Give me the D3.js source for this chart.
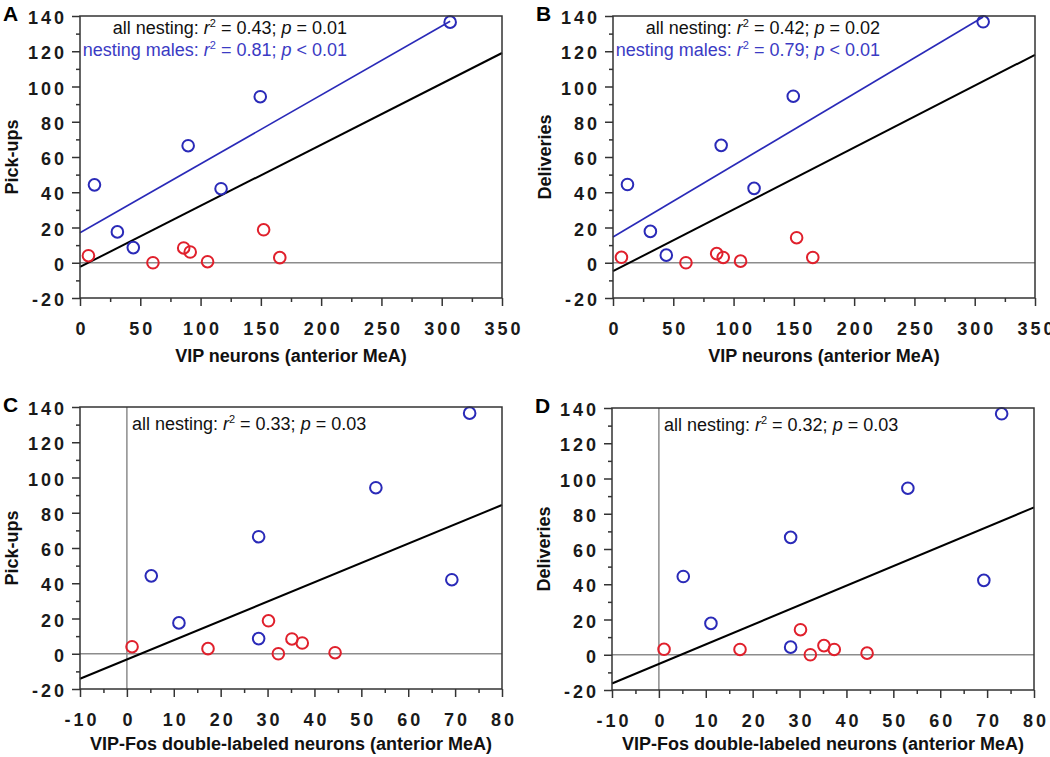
<!DOCTYPE html>
<html>
<head>
<meta charset="utf-8">
<script src="https://cdn.jsdelivr.net/npm/d3@7"></script>
<style>
  html, body { margin: 0; padding: 0; background: #fff; }
  svg { display: block; font-family: "Liberation Sans", Arial, Helvetica, sans-serif; }
</style>
</head>
<body>
<svg id="chart" width="1050" height="757"></svg>
<script>
// ---------------- data ----------------
const panelLetters = ["A", "B", "C", "D"];
const yTitles = ["Pick-ups", "Deliveries", "Pick-ups", "Deliveries"];
const xTitles = [
  "VIP neurons (anterior MeA)",
  "VIP neurons (anterior MeA)",
  "VIP-Fos double-labeled neurons (anterior MeA)",
  "VIP-Fos double-labeled neurons (anterior MeA)"
];
const yTicks = [-20, 0, 20, 40, 60, 80, 100, 120, 140];
const yMinorTicks = [-10, 10, 30, 50, 70, 90, 110, 130];
const xTicksVIP = [0, 50, 100, 150, 200, 250, 300, 350];
const xMinorVIP = [25, 75, 125, 175, 225, 275, 325];
const xTicksFos = [-10, 0, 10, 20, 30, 40, 50, 60, 70, 80];
const xMinorFos = [-5, 5, 15, 25, 35, 45, 55, 65, 75];

// nesting males (blue) and non-nesting (red) animals, same order in every array
const vipMales = [307, 149.5, 89.7, 12, 117, 31, 44.2];
const vipNonNesting = [7, 60.5, 86, 91.4, 105.8, 152.3, 165.7];
const fosMales = [73.1, 53.1, 28.1, 5.2, 69.3, 11.1, 28.1];
const fosNonNesting = [1.1, 32.3, 35.2, 37.4, 44.4, 30.2, 17.3];
const pickupsMales = [136.5, 94.2, 66.4, 44.2, 42, 17.5, 8.6];
const pickupsNonNesting = [4, 0, 8.4, 6.1, 0.6, 18.7, 2.9];
const deliveriesMales = [136.7, 94.5, 66.6, 44.4, 42.2, 17.8, 4.3];
const deliveriesNonNesting = [3.1, 0, 5.2, 3.0, 0.9, 14.2, 3.0];

// fitted regression lines: [[x0, y0], [x1, y1]] in data units
const fitAllA = [[0, -2.4], [350, 119]];
const fitMalesA = [[0, 17], [307, 137]];
const fitAllB = [[0, -4.8], [350, 118]];
const fitMalesB = [[0, 14.6], [307, 139.4]];
const fitAllC = [[-10, -14.2], [80, 84.4]];
const fitAllD = [[-10, -16.3], [80, 83.6]];

// statistics text: [label, r², p-comparison]
const statsA = [["all nesting", "0.43", "= 0.01"], ["nesting males", "0.81", "< 0.01"]];
const statsB = [["all nesting", "0.42", "= 0.02"], ["nesting males", "0.79", "< 0.01"]];
const statsC = [["all nesting", "0.33", "= 0.03"]];
const statsD = [["all nesting", "0.32", "= 0.03"]];

// ---------------- styling / layout ----------------
const FONT = '"Liberation Sans", Arial, Helvetica, sans-serif';
const BLUE = "#2a2ab8";
const BLUE_TEXT = "#3b3bc4";
const RED = "#e0202c";
const FRAME = "#333";
const GUIDE = "#8c8c8c";

const panels = [
  { left: 80,  top: 16,  xDom: [0, 350], xt: xTicksVIP, xm: xMinorVIP,
    xs: [vipMales, vipNonNesting], ys: [pickupsMales, pickupsNonNesting],
    fits: [fitAllA, fitMalesA], stats: statsA, vline: false, xTitleY: 362 },
  { left: 613, top: 16,  xDom: [0, 350], xt: xTicksVIP, xm: xMinorVIP,
    xs: [vipMales, vipNonNesting], ys: [deliveriesMales, deliveriesNonNesting],
    fits: [fitAllB, fitMalesB], stats: statsB, vline: false, xTitleY: 362 },
  { left: 80,  top: 407, xDom: [-10, 80], xt: xTicksFos, xm: xMinorFos,
    xs: [fosMales, fosNonNesting], ys: [pickupsMales, pickupsNonNesting],
    fits: [fitAllC], stats: statsC, vline: true, xTitleY: 750 },
  { left: 612, top: 408, xDom: [-10, 80], xt: xTicksFos, xm: xMinorFos,
    xs: [fosMales, fosNonNesting], ys: [deliveriesMales, deliveriesNonNesting],
    fits: [fitAllD], stats: statsD, vline: true, xTitleY: 750 }
];
const W = 422, H = 282;
const TICK_FONT = 18, LS = 3;

const svg = d3.select("#chart");

panels.forEach((p, i) => {
  const g = svg.append("g").attr("transform", `translate(${p.left},${p.top})`);
  const x = d3.scaleLinear().domain(p.xDom).range([0, W]);
  const y = d3.scaleLinear().domain([-20, 140]).range([H, 0]);

  // guide lines
  g.append("line").attr("x1", 0).attr("x2", W).attr("y1", y(0)).attr("y2", y(0))
    .attr("stroke", GUIDE).attr("stroke-width", 1.5);
  if (p.vline) {
    g.append("line").attr("x1", x(0)).attr("x2", x(0)).attr("y1", 0).attr("y2", H)
      .attr("stroke", GUIDE).attr("stroke-width", 1.5);
  }

  // regression lines
  const line = d3.line().x(d => x(d[0])).y(d => y(d[1]));
  p.fits.forEach((f, k) => {
    g.append("path").attr("d", line(f)).attr("fill", "none")
      .attr("stroke", k === 0 ? "#000" : BLUE)
      .attr("stroke-width", k === 0 ? 2 : 1.6);
  });

  // points
  const colors = [BLUE, RED];
  p.xs.forEach((xsArr, s) => {
    const pts = xsArr.map((v, j) => [v, p.ys[s][j]]);
    g.selectAll(null).data(pts).enter().append("circle")
      .attr("cx", d => x(d[0])).attr("cy", d => y(d[1])).attr("r", 5.8)
      .attr("fill", "none").attr("stroke", colors[s]).attr("stroke-width", 2);
  });

  // frame
  g.append("rect").attr("x", 0).attr("y", 0).attr("width", W).attr("height", H)
    .attr("fill", "none").attr("stroke", FRAME).attr("stroke-width", 1.5);

  // axes
  const styleAxis = sel => {
    sel.attr("font-family", FONT).attr("font-size", TICK_FONT);
    sel.select(".domain").remove();
    sel.selectAll(".tick line").attr("stroke", FRAME).attr("stroke-width", 1.5);
    sel.selectAll(".tick text").attr("fill", "#1a1a1a")
      .style("font-family", FONT).style("font-weight", "bold")
      .style("font-size", TICK_FONT + "px").style("letter-spacing", LS + "px");
  };
  g.append("g").call(d3.axisLeft(y).tickValues(yMinorTicks).tickSize(4).tickFormat(""))
    .call(styleAxis);
  g.append("g").call(d3.axisLeft(y).tickValues(yTicks).tickSize(8).tickPadding(5)
      .tickFormat(d => d < 0 ? "-" + Math.abs(d) : d))
    .call(styleAxis)
    .call(s => s.selectAll(".tick text").attr("dy", "0.42em"));
  g.append("g").attr("transform", `translate(0,${H})`)
    .call(d3.axisBottom(x).tickValues(p.xm).tickSize(4).tickFormat(""))
    .call(styleAxis);
  g.append("g").attr("transform", `translate(0,${H})`)
    .call(d3.axisBottom(x).tickValues(p.xt).tickSize(8).tickPadding(16)
      .tickFormat(d => d < 0 ? "-" + Math.abs(d) : d))
    .call(styleAxis)
    .call(s => s.selectAll(".tick text").attr("dx", LS / 2));

  // axis titles
  svg.append("text").attr("x", p.left + W / 2).attr("y", p.xTitleY)
    .attr("text-anchor", "middle").attr("font-weight", "bold").attr("font-size", 18)
    .attr("fill", "#111").text(xTitles[i]);
  svg.append("text")
    .attr("transform", `translate(${p.left - 62},${p.top + H / 2}) rotate(-90)`)
    .attr("text-anchor", "middle").attr("font-weight", "bold").attr("font-size", 18)
    .attr("fill", "#111").text(yTitles[i]);

  // panel letter
  svg.append("text").attr("x", p.left - 77).attr("y", p.top + 5)
    .attr("font-weight", "bold").attr("font-size", 21).attr("fill", "#000")
    .text(panelLetters[i]);

  // statistics annotations
  p.stats.forEach((st, k) => {
    const t = g.append("text").attr("font-size", 18)
      .attr("fill", k === 0 ? "#111" : BLUE_TEXT);
    if (p.vline) {
      t.attr("x", x(0) + 5).attr("y", 23).attr("text-anchor", "start");
    } else {
      t.attr("x", 267).attr("y", k === 0 ? 18 : 40).attr("text-anchor", "end");
    }
    t.append("tspan").text(st[0] + ": ");
    t.append("tspan").attr("font-style", "italic").text("r");
    t.append("tspan").attr("font-size", 11).attr("dy", -7).text("2");
    t.append("tspan").attr("dy", 7).text(" = " + st[1] + "; ");
    t.append("tspan").attr("font-style", "italic").text("p");
    t.append("tspan").text(" " + st[2]);
  });
});
</script>
</body>
</html>
